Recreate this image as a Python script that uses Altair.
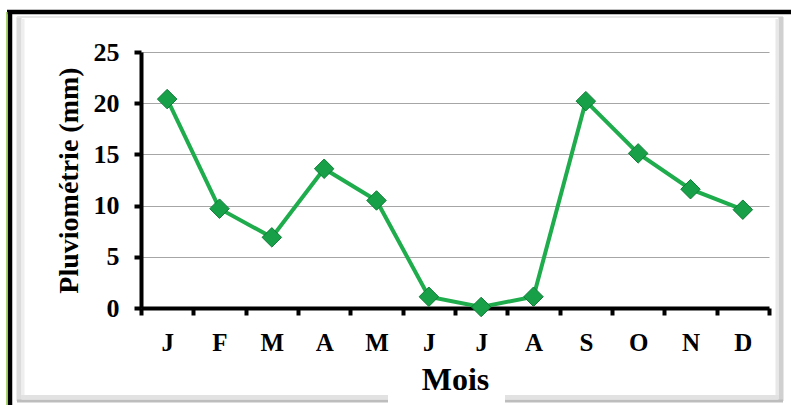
import json
import altair as alt
import pandas as pd

# Monthly rainfall (mm)
month_num = list(range(1, 13))
month_labels = ["J", "F", "M", "A", "M", "J", "J", "A", "S", "O", "N", "D"]
rain_mm = [20.4, 9.7, 6.9, 13.6, 10.5, 1.1, 0.1, 1.1, 20.2, 15.1, 11.6, 9.6]

df = pd.DataFrame({"mois": month_num, "pluie": rain_mm})

W, H = 628, 256
FONT = "Liberation Serif"
GREEN = "#1fac4d"

label_expr = json.dumps(month_labels) + "[datum.value - 1]"

x_enc = alt.X(
    "mois:O",
    scale=alt.Scale(type="band", paddingInner=0, paddingOuter=0),
    axis=alt.Axis(
        title="Mois",
        labelExpr=label_expr,
        labelAngle=0,
        labelFont=FONT, labelFontSize=25, labelFontWeight="bold", labelColor="black",
        labelPadding=15,
        titleFont=FONT, titleFontSize=32, titleFontWeight="bold", titleColor="black",
        titlePadding=9,
        domainColor="black", domainWidth=4,
        tickColor="black", tickWidth=4, tickSize=7, tickBand="extent",
        grid=False,
    ),
)
y_enc = alt.Y(
    "pluie:Q",
    scale=alt.Scale(domain=[0, 25], nice=False),
    axis=alt.Axis(
        title="Pluviométrie (mm)",
        values=[0, 5, 10, 15, 20, 25],
        labelFont=FONT, labelFontSize=26, labelFontWeight="bold", labelColor="black",
        labelPadding=15,
        titleFont=FONT, titleFontSize=28, titleFontWeight="bold", titleColor="black",
        titlePadding=10,
        domainColor="black", domainWidth=4,
        tickColor="black", tickWidth=4, tickSize=7,
        grid=True, gridColor="#a6a6a6", gridWidth=1.2,
    ),
)

base = alt.Chart(df)

line = base.mark_line(color=GREEN, strokeWidth=4).encode(x=x_enc, y=y_enc)
pts = base.mark_point(
    shape="diamond", filled=True, size=380, fill="#17a048",
    stroke="#0d7d36", strokeWidth=1, opacity=1,
).encode(x="mois:O", y="pluie:Q")

# Frame decoration around the chart area
frame_df = pd.DataFrame({"k": [0]})
frame = alt.Chart(frame_df)


def rule(color, width, **enc):
    return frame.mark_rule(color=color, strokeWidth=width).encode(
        **{k: alt.value(v) for k, v in enc.items()}
    )


bevel = [
    # soft inner bevel: left, top, right, bottom (bottom interrupted under the title)
    rule("#dcdcdc", 5, x=-122, y=-35, y2=349),
    rule("#eeeeee", 3, x=-118, y=-33, y2=345),
    rule("#e6e6e6", 2, x=-124, x2=642, y=-35),
    rule("#d0d0d0", 5, x=640, y=-35, y2=349),
    rule("#e8e8e8", 3, x=636, y=-33, y2=345),
    rule("#bdbdbd", 3, x=-124, x2=247, y=349),
    rule("#e2e2e2", 4, x=-120, x2=247, y=345),
    rule("#bdbdbd", 3, x=364, x2=642, y=349),
    rule("#e2e2e2", 4, x=364, x2=638, y=345),
]
outer = [
    rule("black", 4.5, x=-134, x2=660, y=-40),
    rule("black", 4.5, x=-131, y=-42, y2=360),
    rule("#8cc63f", 1.5, x=-134, y=-40, y2=360),
]

chart = (
    alt.layer(*bevel, *outer, line, pts)
    .properties(
        width=W, height=H,
        autosize=alt.AutoSizeParams(type="none"),
        padding={"left": 141, "top": 52, "right": 22, "bottom": 97},
        background="white",
    )
    .configure_view(stroke=None)
)

chart.save("out.html", embed_options={"renderer": "svg", "actions": False})
